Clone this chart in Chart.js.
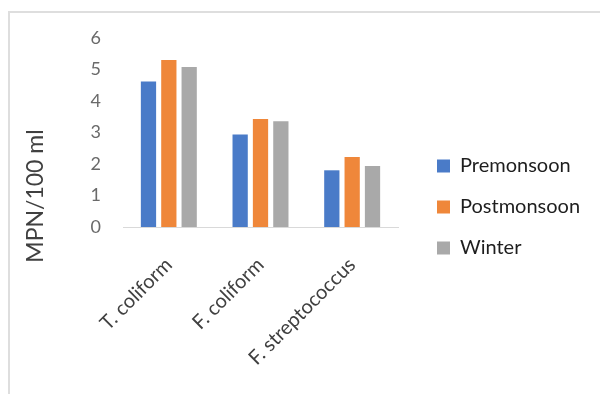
<!DOCTYPE html>
<html>
<head>
<meta charset="utf-8">
<script src="https://cdn.jsdelivr.net/npm/chart.js@4/dist/chart.umd.min.js"></script>
<style>
  html, body { margin: 0; padding: 0; background: #ffffff; }
  #wrap { position: relative; width: 600px; height: 394px; overflow: hidden; background: #ffffff; }
  #frame { position: absolute; left: 8px; top: 11px; width: 700px; height: 500px;
           border-left: 2px solid #dedede; border-top: 2px solid #dedede; }
  #cv { position: absolute; left: 0; top: 0; }
</style>
</head>
<body>
<div id="wrap">
  <div id="frame"></div>
  <canvas id="cv" width="600" height="394"></canvas>
</div>
<script>
// Indicator bacteria counts by season
const categories = ['T. coliform', 'F. coliform', 'F. streptococcus'];
const premonsoon = [4.62, 2.94, 1.80];
const postmonsoon = [5.30, 3.43, 2.22];
const winter = [5.08, 3.36, 1.94];
const yTicks = [0, 1, 2, 3, 4, 5, 6];
const yTitle = 'MPN/100 ml';

const FONT = 'Lato, "Open Sans", sans-serif';
const LEGEND_WIDTH = 184;

// Vertical axis title, centred on the whole plot block (bars + category labels)
const axisTitle = {
  id: 'axisTitle',
  afterDraw(chart) {
    const ctx = chart.ctx;
    ctx.save();
    ctx.translate(36, 196);
    ctx.rotate(-Math.PI / 2);
    ctx.font = '23px ' + FONT;
    ctx.fillStyle = '#404040';
    ctx.textAlign = 'center';
    ctx.textBaseline = 'middle';
    ctx.fillText(yTitle, 0, 0);
    ctx.restore();
  }
};

// Give the side legend a fixed width instead of the default half-of-space cap
const legendWidth = {
  id: 'legendWidth',
  afterInit(chart) {
    const legend = chart.legend;
    if (!legend) return;
    const fit = legend.fit.bind(legend);
    legend.fit = function () {
      this.maxWidth = LEGEND_WIDTH;
      fit();
      this.width = LEGEND_WIDTH;
    };
  }
};

new Chart(document.getElementById('cv'), {
  type: 'bar',
  data: {
    labels: categories,
    datasets: [
      { label: 'Premonsoon', data: premonsoon, backgroundColor: '#4a7bc8' },
      { label: 'Postmonsoon', data: postmonsoon, backgroundColor: '#ef873a' },
      { label: 'Winter', data: winter, backgroundColor: '#a9a9a9' }
    ]
  },
  options: {
    responsive: false,
    animation: false,
    devicePixelRatio: 1,
    layout: { padding: { top: 38, bottom: 18, left: 0, right: 0 } },
    datasets: { bar: { categoryPercentage: 0.666, barPercentage: 0.75 } },
    plugins: {
      tooltip: { enabled: false },
      legend: {
        position: 'right',
        align: 'center',
        labels: {
          boxWidth: 13,
          boxHeight: 13,
          padding: 21,
          color: '#1e1e1e',
          font: { family: FONT, size: 20 }
        }
      }
    },
    scales: {
      x: {
        grid: { display: false, drawTicks: false },
        border: { display: true, color: '#d9d9d9', width: 1 },
        ticks: {
          color: '#404040',
          font: { family: FONT, size: 20 },
          minRotation: 45,
          maxRotation: 45,
          padding: 26
        },
        afterFit(scale) { scale.height = 149; }
      },
      y: {
        min: 0,
        max: 6,
        afterBuildTicks(scale) { scale.ticks = yTicks.map(v => ({ value: v })); },
        grid: { display: false, drawTicks: false },
        border: { display: false },
        ticks: {
          color: '#6a6a6a',
          font: { family: FONT, size: 18 },
          padding: 22
        },
        afterFit(scale) { scale.width = 123; }
      },
      spacer: {
        type: 'linear',
        position: 'right',
        display: true,
        grid: { display: false, drawTicks: false },
        border: { display: false },
        ticks: { display: false },
        afterFit(scale) { scale.width = 18; }
      }
    }
  },
  plugins: [axisTitle, legendWidth]
});
</script>
</body>
</html>
